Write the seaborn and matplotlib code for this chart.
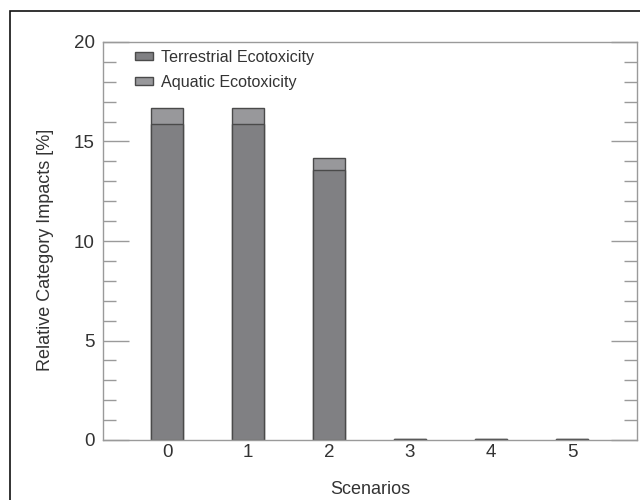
import matplotlib
matplotlib.use("Agg")
import matplotlib.pyplot as plt
from matplotlib.patches import Rectangle
from matplotlib.ticker import MultipleLocator
import numpy as np
import pandas as pd
import seaborn as sns

scenarios = [0, 1, 2, 3, 4, 5]
terrestrial = [15.9, 15.9, 13.55, 0.03, 0.03, 0.03]
aquatic = [0.78, 0.78, 0.63, 0.01, 0.01, 0.01]

sns.set_theme(style="white")
plt.rcParams["font.family"] = ["Liberation Sans", "DejaVu Sans"]

df = pd.DataFrame({
    "Scenario": scenarios,
    "Terrestrial": terrestrial,
    "Total": np.array(terrestrial) + np.array(aquatic),
})

text_c = "#333333"
spine_c = "#9a9a9a"
terr_c = "#808083"
aq_c = "#98989b"
edge_c = "#4a4a4a"

fig = plt.figure(figsize=(6.4, 5.0), dpi=100)
ax = fig.add_axes([0.161, 0.12, 0.834, 0.796])

# Stacked bars: full height in the aquatic tone, terrestrial share drawn over it
sns.barplot(data=df, x="Scenario", y="Total", color=aq_c, width=0.4,
            edgecolor=edge_c, linewidth=1.0, saturation=1, ax=ax,
            order=scenarios)
sns.barplot(data=df, x="Scenario", y="Terrestrial", color=terr_c, width=0.4,
            edgecolor=edge_c, linewidth=1.0, saturation=1, ax=ax,
            order=scenarios)

ax.set_xlim(-0.79, 5.8)
ax.set_ylim(0, 20)
ax.yaxis.set_major_locator(MultipleLocator(5))
ax.yaxis.set_minor_locator(MultipleLocator(1))
ax.tick_params(axis="y", which="both", direction="in", left=True, right=True,
               color=spine_c, width=1.0, labelsize=13.5, labelcolor=text_c,
               pad=6)
ax.tick_params(axis="y", which="major", length=19)
ax.tick_params(axis="y", which="minor", length=9.5)
ax.tick_params(axis="x", bottom=False, length=0, labelsize=13.5,
               labelcolor=text_c, pad=3)

for s in ax.spines.values():
    s.set_color(spine_c)
    s.set_linewidth(1.0)

ax.set_xlabel("Scenarios", fontsize=13, color=text_c, labelpad=14)
ax.set_ylabel("Relative Category Impacts [%]", fontsize=13, color=text_c)
ax.yaxis.set_label_coords(-0.092, 0.477)

handles = [
    Rectangle((0, 0), 1, 1, facecolor=terr_c, edgecolor=edge_c, linewidth=1.0),
    Rectangle((0, 0), 1, 1, facecolor=aq_c, edgecolor=edge_c, linewidth=1.0),
]
leg = ax.legend(handles, ["Terrestrial Ecotoxicity", "Aquatic Ecotoxicity"],
                loc="upper left", frameon=False, fontsize=11.6,
                handlelength=1.1, handleheight=0.4, handletextpad=0.5,
                labelspacing=0.6, bbox_to_anchor=(32 / 534, 1 - 8 / 398),
                borderaxespad=0, borderpad=0)
for t in leg.get_texts():
    t.set_color(text_c)

# Figure frame
fig.add_artist(Rectangle((10 / 640, -0.01), 1.0, 1 - 11 / 500 + 0.01,
                         transform=fig.transFigure, fill=False,
                         edgecolor="#111111", linewidth=1.2))

fig.savefig("out.png", dpi=100)
